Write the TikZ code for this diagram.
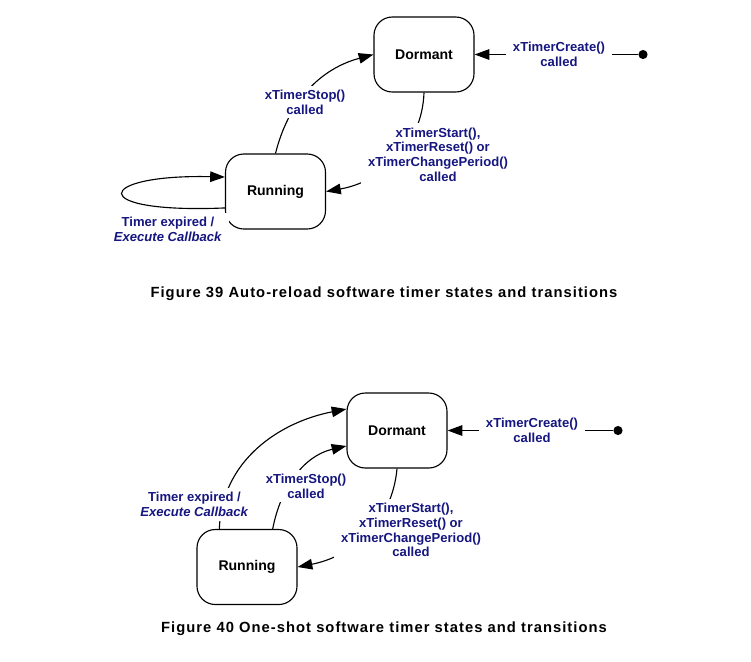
\documentclass[tikz,border=0pt]{standalone}
\usepackage{fontspec}
\setmainfont{Liberation Sans}
\newfontfamily\capfont[LetterSpace=7]{Liberation Sans}
\usetikzlibrary{arrows.meta}
\definecolor{lblblue}{RGB}{22,22,128}

\begin{document}
\begin{tikzpicture}[scale=0.25,
  state/.style={draw=black,line width=0.8pt,rounded corners=13pt,minimum width=2.5cm,minimum height=1.875cm,font=\fontsize{10}{12}\selectfont\bfseries},
  lbl/.style={fill=white,text=lblblue,align=center,inner xsep=5pt,inner ysep=3pt,font=\fontsize{9.3}{10.5}\selectfont\bfseries},
  trans/.style={line width=0.8pt,-{Triangle[length=10.5pt,width=7.5pt]}},
  initdot/.style={circle,fill=black,inner sep=0pt,minimum size=6.5pt},
  caption/.style={font=\fontsize{10.5}{12}\capfont\bfseries}]
\useasboundingbox (0,0) rectangle (75.1,-66.1);
\node[state] (dorm1) at (42.4,-5.45) {Dormant};
\node[state] (run1) at (27.55,-19.15) {Running};
\node[initdot] (init1) at (64.3,-5.45) {};
\draw[trans] (init1) -- (dorm1);
\draw[trans] (run1.north) to[out=76,in=195] (dorm1.west);
\draw[trans] (dorm1.south) to[out=-92,in=10] (run1.east);
\draw[trans] (run1.198) .. controls +(-14.1,-0.6) and +(-13,0.3) .. (run1.164);
\node[lbl] (create1) at (55.9,-5.45) {xTimerCreate()\\called};
\node[lbl] (stop1) at (30.5,-10.2) {xTimerStop()\\called};
\node[lbl] (start1) at (43.8,-15.45) {xTimerStart(),\\xTimerReset() or\\xTimerChangePeriod()\\called};
\node[lbl] (expire1) at (16.8,-22.95) {Timer expired /\\\textit{Execute Callback}};
\node[caption] (cap1) at (38.4,-29.35) {Figure 39 Auto-reload software timer states and transitions};
\node[state] (dorm2) at (39.7,-43.05) {Dormant};
\node[state] (run2) at (24.7,-56.7) {Running};
\node[initdot] (init2) at (61.8,-43.05) {};
\draw[trans] (init2) -- (dorm2);
\draw[trans] (run2.126) to[out=88,in=191] (dorm2.157);
\draw[trans] (run2.56) to[out=79,in=193] (dorm2.197);
\draw[trans] (dorm2.south) to[out=-95,in=11] (run2.east);
\node[lbl] (create2) at (53.2,-43.05) {xTimerCreate()\\called};
\node[lbl] (stop2) at (30.6,-48.6) {xTimerStop()\\called};
\node[lbl] (start2) at (41.1,-53.0) {xTimerStart(),\\xTimerReset() or\\xTimerChangePeriod()\\called};
\node[lbl] (expire2) at (19.45,-50.45) {Timer expired /\\\textit{Execute Callback}};
\node[caption] (cap2) at (38.4,-62.85) {Figure 40 One-shot software timer states and transitions};
\end{tikzpicture}
\end{document}
